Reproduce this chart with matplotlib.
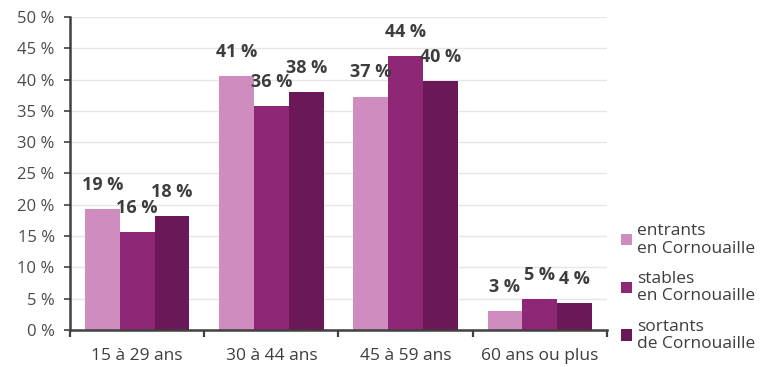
import matplotlib
matplotlib.use("Agg")
import matplotlib.pyplot as plt
import numpy as np

categories = ["15 à 29 ans", "30 à 44 ans", "45 à 59 ans", "60 ans ou plus"]
series_names = ["entrants\nen Cornouaille", "stables\nen Cornouaille", "sortants\nde Cornouaille"]
entrants = [19.3, 40.6, 37.3, 3.0]
stables = [15.6, 35.8, 43.8, 4.9]
sortants = [18.2, 38.0, 39.7, 4.3]
labels_entrants = ["19 %", "41 %", "37 %", "3 %"]
labels_stables = ["16 %", "36 %", "44 %", "5 %"]
labels_sortants = ["18 %", "38 %", "40 %", "4 %"]
yticks = [0, 5, 10, 15, 20, 25, 30, 35, 40, 45, 50]
ytick_labels = ["0 %", "5 %", "10 %", "15 %", "20 %", "25 %", "30 %", "35 %", "40 %", "45 %", "50 %"]

colors = ["#cf8dbf", "#8e2775", "#6a1858"]
font = ["Open Sans", "DejaVu Sans"]
plt.rcParams["font.family"] = font

fig = plt.figure(figsize=(7.77, 3.67), dpi=100)
ax = fig.add_axes([70/777, 1-330/367, (607-70)/777, (330-17)/367])

x = np.arange(len(categories))
w = 0.26
all_vals = [entrants, stables, sortants]
all_labels = [labels_entrants, labels_stables, labels_sortants]
bars = []
for i, (vals, labs) in enumerate(zip(all_vals, all_labels)):
    pos = x + (i - 1) * w
    b = ax.bar(pos, vals, width=w, color=colors[i], label=series_names[i], zorder=3)
    bars.append(b)
    for p, v, lab in zip(pos, vals, labs):
        ax.annotate(lab, (p, v), xytext=(0, 17.5), textcoords="offset points",
                    ha="center", va="center", fontsize=13, fontweight="bold",
                    color="#3d3d3d", zorder=4)

ax.set_xlim(-0.5, len(categories) - 0.5)
ax.set_ylim(0, 50)
ax.set_yticks(yticks)
ax.set_yticklabels(ytick_labels, fontsize=12, color="#4a4a4a")
ax.set_xticks(np.arange(-0.5, len(categories), 1.0))
ax.set_xticklabels([])
ax.set_xticks(x, minor=True)
ax.set_xticklabels(categories, minor=True, fontsize=12.5, color="#3d3d3d")
ax.tick_params(axis="x", which="minor", length=0, pad=13)
ax.tick_params(axis="x", which="major", length=5, width=1.6, color="#404040", direction="out")
ax.tick_params(axis="y", length=4, width=1.2, color="#404040", pad=7)

ax.grid(axis="y", color="#e6e6e6", linewidth=1, zorder=0)
for s in ["top", "right"]:
    ax.spines[s].set_visible(False)
ax.spines["left"].set_color("#404040")
ax.spines["left"].set_linewidth(1.8)
ax.spines["bottom"].set_color("#404040")
ax.spines["bottom"].set_linewidth(1.8)
ax.spines["bottom"].set_zorder(5)

leg = fig.legend(handles=bars, labels=series_names, loc="upper left",
                 bbox_to_anchor=(621/777, 1-223/367), frameon=False,
                 fontsize=12.5, handlelength=0.65, handleheight=0.65,
                 handletextpad=0.25, labelspacing=0.82, borderaxespad=0, borderpad=0)
for t in leg.get_texts():
    t.set_color("#3d3d3d")
    t.set_linespacing(1.13)

fig.savefig("out.png", dpi=100)
